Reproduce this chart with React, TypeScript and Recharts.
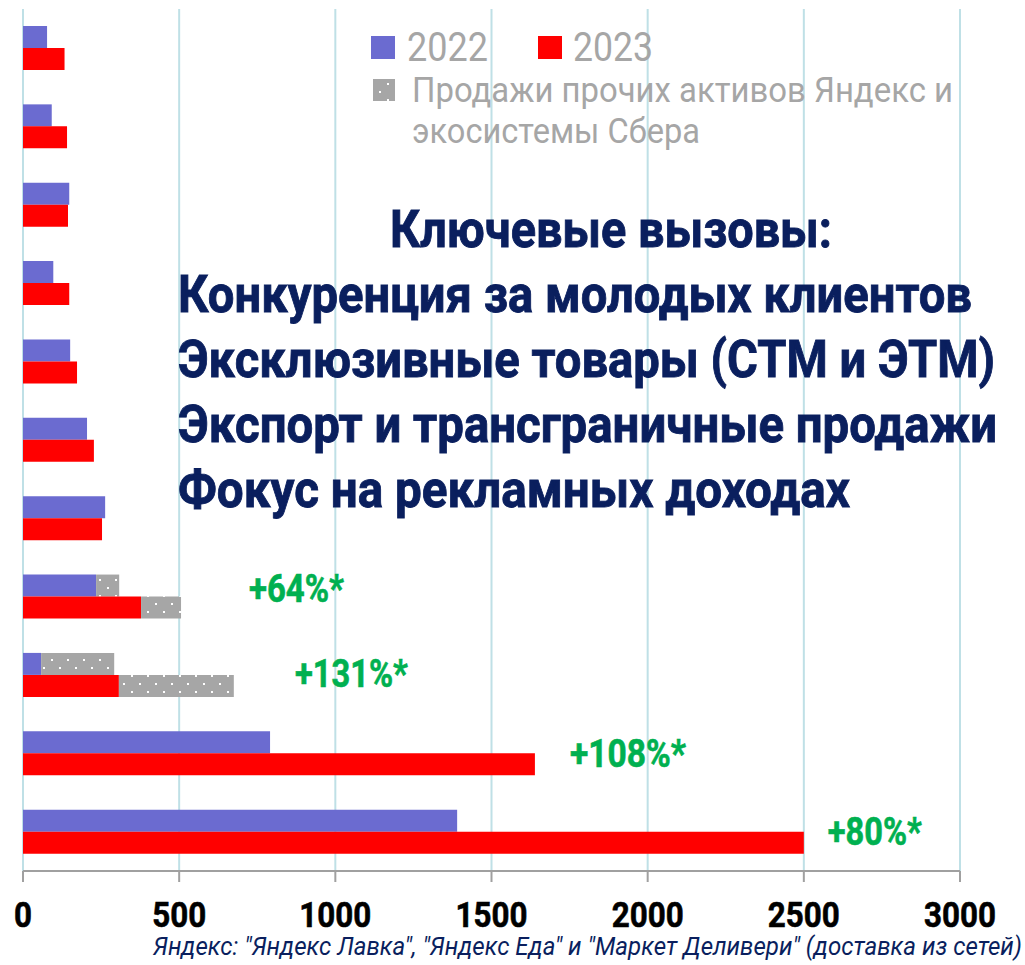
import React from 'react';
import { BarChart, Bar, XAxis, YAxis, CartesianGrid, LabelList } from 'recharts';

// ---- data (top row first) ----
const categories = ['Позиция 1', 'Позиция 2', 'Позиция 3', 'Позиция 4', 'Позиция 5', 'Позиция 6', 'Позиция 7', 'Позиция 8', 'Позиция 9', 'Позиция 10', 'Позиция 11'];
const sales2022 = [77, 92, 148, 97, 151, 205, 263, 234, 58, 791, 1390];
const other2022 = [0, 0, 0, 0, 0, 0, 0, 74, 234, 0, 0];
const sales2023 = [133, 141, 144, 148, 173, 227, 253, 378, 307, 1639, 2500];
const other2023 = [0, 0, 0, 0, 0, 0, 0, 128, 368, 0, 0];
const growthLabels = ['', '', '', '', '', '', '', '+64%*', '+131%*', '+108%*', '+80%*'];
const xTicks = [0, 500, 1000, 1500, 2000, 2500, 3000];

const legendNames = ['2022', '2023'];
const legendOther = ['Продажи прочих активов Яндекс и', 'экосистемы Сбера'];
const titleLines = [
  'Ключевые вызовы:',
  'Конкуренция за молодых клиентов',
  'Эксклюзивные товары (СТМ и ЭТМ)',
  'Экспорт и трансграничные продажи',
  'Фокус на рекламных доходах',
];
const footnote = 'Яндекс: "Яндекс Лавка", "Яндекс Еда" и "Маркет Деливери" (доставка из сетей)';

const data = categories.map((name, i) => ({
  name,
  s22: sales2022[i],
  o22: other2022[i],
  s23: sales2023[i],
  o23: other2023[i],
  growth: growthLabels[i],
}));

// ---- layout / style constants ----
const BLUE = '#6b6bd0';
const RED = '#ff0000';
const GRAY = '#a6a6a6';
const NAVY = '#0a1f5e';
const GREEN = '#00b050';
const GRID = '#bfe0e6';

// label placement relative to end of the red bar: dx, dy (baseline from bar top), text width
const labelLayout: Record<string, { dx: number; dy: number; w: number }> = {
  '+64%*': { dx: 108, dy: 5, w: 95 },
  '+131%*': { dx: 176, dy: 12, w: 113 },
  '+108%*': { dx: 35, dy: 14, w: 116 },
  '+80%*': { dx: 24, dy: 13, w: 94 },
};

const titleLayout = [
  { x: 611, y: 247, w: 442, anchor: 'middle' },
  { x: 178, y: 312, w: 794, anchor: 'start' },
  { x: 178, y: 377, w: 817, anchor: 'start' },
  { x: 178, y: 442, w: 819, anchor: 'start' },
  { x: 178, y: 507, w: 672, anchor: 'start' },
];

const Tick = (props: any) => {
  const { x, y, payload } = props;
  const s = String(payload.value);
  return (
    <text
      x={x}
      y={y + 43}
      textAnchor="middle"
      fontFamily="Roboto"
      fontWeight={700}
      fontSize={35}
      fill="#000"
      stroke="#000"
      strokeWidth={0.6}
      textLength={s.length * 18}
      lengthAdjust="spacingAndGlyphs"
    >
      {s}
    </text>
  );
};

const GrowthLabel = (props: any) => {
  const { x, y, width, value } = props;
  if (!value) return null;
  const l = labelLayout[value as string];
  if (!l) return null;
  return (
    <text
      x={Number(x) + Number(width) + l.dx}
      y={Number(y) + l.dy}
      fontFamily="Roboto"
      fontWeight={700}
      fontSize={38}
      fill={GREEN}
      stroke={GREEN}
      strokeWidth={0.6}
      textLength={l.w}
      lengthAdjust="spacingAndGlyphs"
    >
      {value}
    </text>
  );
};

export default function App() {
  return (
    <div style={{ position: 'absolute', left: 0, top: 0, width: 1025, height: 965, background: '#fff' }}>
      <svg width={0} height={0} style={{ position: 'absolute' }}>
        <defs>
          <pattern id="dots" width={16} height={16} patternUnits="userSpaceOnUse">
            <rect width={16} height={16} fill={GRAY} />
            <rect x={3} y={3} width={2} height={2} fill="#fff" />
            <rect x={11} y={11} width={2} height={2} fill="#fff" />
          </pattern>
        </defs>
      </svg>
      <BarChart
        width={1025}
        height={965}
        data={data}
        layout="vertical"
        margin={{ top: 9, right: 65, bottom: 34, left: 23 }}
        barGap={0}
        barSize={22}
      >
        <CartesianGrid horizontal={false} stroke={GRID} strokeWidth={2} />
        <XAxis
          type="number"
          domain={[0, 3000]}
          ticks={xTicks}
          interval={0}
          height={60}
          tickSize={11}
          axisLine={{ stroke: '#a0a0a0', strokeWidth: 2 }}
          tickLine={{ stroke: '#a0a0a0', strokeWidth: 2 }}
          tick={<Tick />}
        />
        <YAxis type="category" dataKey="name" hide />
        <Bar dataKey="s22" stackId="a" fill={BLUE} isAnimationActive={false} />
        <Bar dataKey="o22" stackId="a" fill="url(#dots)" isAnimationActive={false} />
        <Bar dataKey="s23" stackId="b" fill={RED} isAnimationActive={false}>
          <LabelList dataKey="growth" content={<GrowthLabel />} />
        </Bar>
        <Bar dataKey="o23" stackId="b" fill="url(#dots)" isAnimationActive={false} />
      </BarChart>
      <svg
        width={1025}
        height={965}
        style={{ position: 'absolute', left: 0, top: 0, pointerEvents: 'none' }}
      >
        {/* legend */}
        <rect x={371} y={36} width={24} height={23} fill={BLUE} />
        <text x={407} y={61} fontFamily="Roboto" fontSize={40} fill={GRAY} textLength={81} lengthAdjust="spacingAndGlyphs">
          {legendNames[0]}
        </text>
        <rect x={538} y={36} width={24} height={23} fill={RED} />
        <text x={573} y={61} fontFamily="Roboto" fontSize={40} fill={GRAY} textLength={80} lengthAdjust="spacingAndGlyphs">
          {legendNames[1]}
        </text>
        <rect x={373} y={79} width={22} height={22} fill="url(#dots)" />
        <text x={412} y={102} fontFamily="Roboto" fontSize={35} fill={GRAY} textLength={541} lengthAdjust="spacingAndGlyphs">
          {legendOther[0]}
        </text>
        <text x={412} y={143} fontFamily="Roboto" fontSize={35} fill={GRAY} textLength={288} lengthAdjust="spacingAndGlyphs">
          {legendOther[1]}
        </text>
        {/* title block */}
        {titleLines.map((t, i) => (
          <text
            key={i}
            x={titleLayout[i].x}
            y={titleLayout[i].y}
            textAnchor={titleLayout[i].anchor as any}
            fontFamily="Roboto"
            fontWeight={700}
            fontSize={52}
            fill={NAVY}
            stroke={NAVY}
            strokeWidth={0.9}
            textLength={titleLayout[i].w}
            lengthAdjust="spacingAndGlyphs"
          >
            {t}
          </text>
        ))}
        {/* footnote */}
        <text
          x={153}
          y={955}
          fontFamily="Roboto"
          fontStyle="italic"
          fontSize={25}
          fill={NAVY}
          textLength={869}
          lengthAdjust="spacingAndGlyphs"
        >
          {footnote}
        </text>
      </svg>
    </div>
  );
}
